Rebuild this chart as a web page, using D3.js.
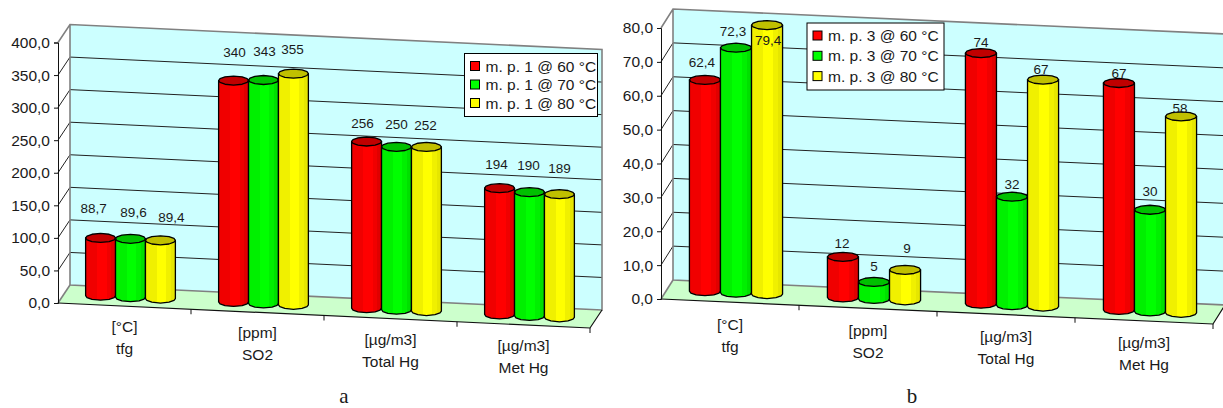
<!DOCTYPE html>
<html>
<head>
<meta charset="utf-8">
<script src="https://cdn.jsdelivr.net/npm/d3@7"></script>
<style>
  html, body { margin: 0; padding: 0; background: #fff; overflow: hidden; }
  text { font-family: "Liberation Sans", Arial, sans-serif; fill: #1a1a1a; }
</style>
</head>
<body>
<script>
// data
const categories = [["[°C]", "tfg"], ["[ppm]", "SO2"], ["[µg/m3]", "Total Hg"], ["[µg/m3]", "Met Hg"]];
const temperatures = ["60", "70", "80"];

const valuesA60 = [88.7, 340, 256, 194];
const valuesA70 = [89.6, 343, 250, 190];
const valuesA80 = [89.4, 355, 252, 189];
const labelsA60 = ["88,7", "340", "256", "194"];
const labelsA70 = ["89,6", "343", "250", "190"];
const labelsA80 = ["89,4", "355", "252", "189"];
const ticksA = [0, 50, 100, 150, 200, 250, 300, 350, 400];

const valuesB60 = [62.4, 12, 74, 67];
const valuesB70 = [72.3, 5, 32, 30];
const valuesB80 = [79.4, 9, 67, 58];
const labelsB60 = ["62,4", "12", "74", "67"];
const labelsB70 = ["72,3", "5", "32", "30"];
const labelsB80 = ["79,4", "9", "67", "58"];
const ticksB = [0, 10, 20, 30, 40, 50, 60, 70, 80];

// the value labels were moved by hand in the original, [dx, dy] from the bar top
const nudgeA = [
  [[-7, -30], [3, -27], [11, -23]],
  [[1, -28], [1, -29], [-1, -24]],
  [[-4, -18], [0, -23], [-1, -22]],
  [[-3, -24], [-1, -27], [0, -26]]
];
const nudgeB = [
  [[-3, -18], [-3, -17], [1, 15]],
  [[-1, -14], [0, -16], [2, -22]],
  [[0, -11], [0, -13], [-2, -10]],
  [[0, -10], [0, -19], [-1, -8]]
];

const colors = [
  { name: "red", body: "#ff0000", side: "#f00000", dark: "#e00000", top: "#c00000" },
  { name: "green", body: "#00ff00", side: "#00f000", dark: "#00e000", top: "#00c000" },
  { name: "yellow", body: "#ffff00", side: "#f0f000", dark: "#e6e600", top: "#c0c000" }
];

const svg = d3.select("body").append("svg").attr("width", 1223).attr("height", 408);

// banded shading of the cylinders
const defs = svg.append("defs");
colors.forEach(c => {
  const g = defs.append("linearGradient").attr("id", "bar-" + c.name);
  [[0, c.side], [0.38, c.side], [0.38, c.body], [0.7, c.body], [0.7, c.side], [0.84, c.side], [0.84, c.dark], [1, c.dark]]
    .forEach(s => g.append("stop").attr("offset", s[0]).attr("stop-color", s[1]));
});

function drawChart(cfg) {
  const g = svg.append("g");

  // oblique projection: category along the floor, value upwards, depth backwards
  const x = d3.scaleLinear().domain([0, 4]).range([cfg.left, cfg.right]);
  const yFloor = d3.scaleLinear().domain([0, 4]).range([cfg.bottom, cfg.bottomRight]);
  const y = d3.scaleLinear().domain([0, cfg.max]).range([cfg.bottom, cfg.top]);
  const rise = v => cfg.bottom - y(v);
  const pt = (c, v, d) => [x(c) + cfg.depthX * d, yFloor(c) - rise(v) - cfg.depthY * d];
  const line = d3.line();

  // back wall, floor, side wall
  g.append("path").attr("d", line([pt(0, cfg.max, 1), pt(4, cfg.max, 1), pt(4, 0, 1), pt(0, 0, 1)]) + "Z")
    .attr("fill", "#ccffff");
  g.append("path").attr("d", line([pt(0, 0, 0), pt(4, 0, 0), pt(4, 0, 1), pt(0, 0, 1)]) + "Z")
    .attr("fill", "#ccffcc");

  cfg.ticks.forEach(t => {
    if (t > 0 && t < cfg.max) {
      g.append("path").attr("d", line([pt(0, t, 1), pt(4, t, 1)]))
        .attr("fill", "none").attr("stroke", "#222").attr("stroke-width", 1);
    }
    if (t > 0 && t < cfg.max) {
      g.append("path").attr("d", line([pt(0, t, 0), pt(0, t, 1)]))
        .attr("fill", "none").attr("stroke", "#222").attr("stroke-width", 1);
    }
  });

  // grey outline of the walls
  g.append("path")
    .attr("d", line([pt(0, cfg.max, 0), pt(0, cfg.max, 1), pt(4, cfg.max, 1), pt(4, 0, 1), pt(0, 0, 1), pt(0, cfg.max, 1)]))
    .attr("fill", "none").attr("stroke", "#808080").attr("stroke-width", 1.6);
  g.append("path").attr("d", line([pt(0, 0, 0), pt(0, 0, 1)]))
    .attr("stroke", "#808080").attr("stroke-width", 1.6);

  // floor edge and its side
  g.append("path").attr("d", line([pt(0, 0, 0), pt(4, 0, 0), pt(4, 0, 1)]))
    .attr("fill", "none").attr("stroke", "#111").attr("stroke-width", 1.2);
  d3.range(1, 5).forEach(c => {
    const p = pt(c, 0, 0);
    g.append("line").attr("x1", p[0]).attr("x2", p[0]).attr("y1", p[1]).attr("y2", p[1] + 5)
      .attr("stroke", "#111").attr("stroke-width", 1);
  });

  // value axis on the front edge
  const axis = g.append("g").attr("transform", `translate(${cfg.left},0)`)
    .call(d3.axisLeft(y).tickValues(cfg.ticks).tickSize(4).tickPadding(4)
      .tickFormat(d => d3.format(".1f")(d).replace(".", ",")));
  axis.selectAll("path,line").attr("stroke", "#111");
  axis.selectAll("text").style("font-family", '"Liberation Sans", Arial, sans-serif')
    .attr("font-size", 15.5).attr("fill", "#1a1a1a");

  // bars: faceted cylinders standing in the middle of the floor depth
  const facets = [180, 205, 235, 270, 305, 335, 0, 25, 55, 90, 125, 155];
  const bw = 0.225;
  const seriesOf = [cfg.series60, cfg.series70, cfg.series80];

  categories.forEach((cat, ci) => {
    seriesOf.forEach((vals, si) => {
      const c = ci + 0.5 + (si - 1) * bw;
      const v = vals[ci];
      const color = colors[si];
      const base = pt(c, 0, 0.5);
      const head = pt(c, v, 0.5);
      const rx = (x(c + bw) - x(c)) / 2;
      const ry = 4.5;
      const ring = (p, a) => [p[0] + rx * Math.cos(a * Math.PI / 180), p[1] + ry * Math.sin(a * Math.PI / 180)];

      const lower = facets.filter(a => a === 0 || (a > 0 && a <= 180)).map(a => ring(base, a));
      const body = [ring(head, 180), ring(base, 180)]
        .concat(lower.slice().sort((p, q) => p[0] - q[0]))
        .concat([ring(head, 0)]);
      g.append("path").attr("d", line(body) + "Z")
        .attr("fill", `url(#bar-${color.name})`)
        .attr("stroke", "#000").attr("stroke-width", 1.3).attr("stroke-linejoin", "round");
      g.append("path").attr("d", line(facets.map(a => ring(head, a))) + "Z")
        .attr("fill", color.top)
        .attr("stroke", "#000").attr("stroke-width", 1.3).attr("stroke-linejoin", "round");
    });
  });

  // value labels on top of everything
  [cfg.labels60, cfg.labels70, cfg.labels80].forEach((labels, si) => {
    labels.forEach((label, ci) => {
      const c = ci + 0.5 + (si - 1) * bw;
      const head = pt(c, seriesOf[si][ci], 0.5);
      const n = cfg.nudge[ci][si];
      g.append("text").attr("x", head[0] + n[0]).attr("y", head[1] + n[1])
        .attr("dy", "0.36em").attr("text-anchor", "middle").attr("font-size", 13.5).text(label);
    });
  });

  // category labels, two lines that step down with the floor
  categories.forEach((cat, ci) => {
    const p = pt(ci + 0.5, 0, 0);
    g.append("text").attr("x", p[0]).attr("y", p[1] + cfg.catGap)
      .attr("text-anchor", "middle").attr("font-size", 15.5).text(cat[0]);
    g.append("text").attr("x", p[0]).attr("y", p[1] + cfg.catGap + 22)
      .attr("text-anchor", "middle").attr("font-size", 15.5).text(cat[1]);
  });

  // legend
  const lg = g.append("g").attr("transform", `translate(${cfg.legendX},${cfg.legendY})`);
  lg.append("rect").attr("width", cfg.legendW).attr("height", cfg.legendH)
    .attr("fill", "#fff").attr("stroke", "#000").attr("stroke-width", 1);
  temperatures.forEach((t, i) => {
    const ry = 12.5 + i * cfg.legendStep;
    lg.append("rect").attr("x", 6).attr("y", ry - 4.5).attr("width", 9).attr("height", 9)
      .attr("fill", colors[i].body).attr("stroke", "#000").attr("stroke-width", 1);
    lg.append("text").attr("x", 21).attr("y", ry).attr("dy", "0.36em").attr("font-size", 15.5)
      .text(`m. p. ${cfg.point} @ ${t} °C`);
  });

  svg.append("text").attr("x", cfg.captionX).attr("y", 402.5).attr("text-anchor", "middle")
    .style("font-family", '"Liberation Serif", "Times New Roman", serif')
    .attr("font-size", 21).text(cfg.caption);
}

drawChart({
  left: 58, right: 590, bottom: 303, bottomRight: 328, top: 42.5, max: 400,
  depthX: 12, depthY: 18, ticks: ticksA, catGap: 26,
  series60: valuesA60, series70: valuesA70, series80: valuesA80,
  labels60: labelsA60, labels70: labelsA70, labels80: labelsA80, nudge: nudgeA,
  point: 1, legendX: 464.5, legendY: 53.5, legendW: 133, legendH: 63, legendStep: 18.5,
  caption: "a", captionX: 344
});

drawChart({
  left: 661, right: 1213, bottom: 299, bottomRight: 324, top: 28, max: 80,
  depthX: 12, depthY: 19, ticks: ticksB, catGap: 27.5,
  series60: valuesB60, series70: valuesB70, series80: valuesB80,
  labels60: labelsB60, labels70: labelsB70, labels80: labelsB80, nudge: nudgeB,
  point: 3, legendX: 807, legendY: 23, legendW: 137, legendH: 67, legendStep: 20.3,
  caption: "b", captionX: 912
});
</script>
</body>
</html>
